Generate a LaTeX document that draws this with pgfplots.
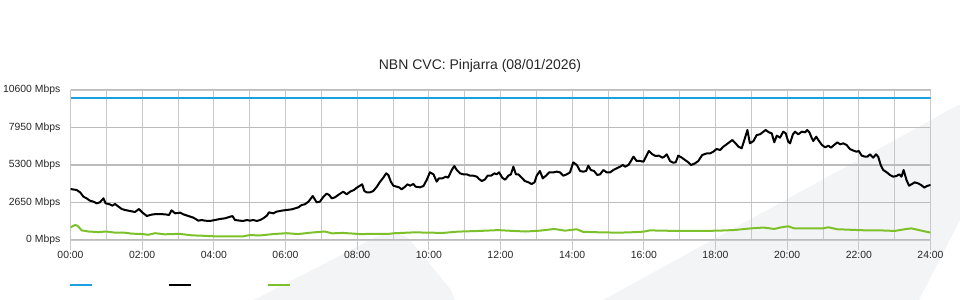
\documentclass[border=0pt]{standalone}
\usepackage{pgfplots}
\usepackage{pgfplotstable}
\pgfplotsset{compat=1.18}
\usepackage{fontspec}
\setmainfont{Liberation Sans}
\definecolor{cvcblue}{HTML}{1BA1E2}
\definecolor{cvcgreen}{HTML}{7DC12A}
\definecolor{bgshape}{HTML}{F3F4F6}
\definecolor{gridv}{HTML}{C8C8C8}
\definecolor{gridh}{HTML}{BCBCBC}

\pgfplotstableread{
t v
0.00 3604
0.17 3533
0.27 3368
0.36 3062
0.45 2944
0.54 2780
0.64 2709
0.73 2591
0.82 2662
0.92 2944
0.98 2591
1.10 2520
1.17 2426
1.24 2544
1.34 2356
1.43 2191
1.52 2120
1.66 2049
1.80 1979
1.91 2191
2.00 1955
2.13 1696
2.22 1767
2.31 1814
2.45 1837
2.64 1814
2.75 1767
2.82 2096
2.92 1884
3.06 1932
3.15 1814
3.29 1696
3.43 1578
3.57 1366
3.66 1413
3.75 1366
3.89 1343
4.03 1413
4.17 1484
4.31 1531
4.40 1602
4.52 1696
4.59 1413
4.73 1366
4.82 1343
4.92 1413
5.01 1366
5.10 1413
5.20 1343
5.29 1413
5.38 1531
5.48 1720
5.54 1955
5.66 1884
5.75 2002
5.89 2073
6.03 2120
6.17 2167
6.27 2238
6.36 2308
6.45 2473
6.54 2520
6.64 2709
6.76 3109
6.87 2662
6.96 2709
7.06 3062
7.15 3274
7.22 3180
7.29 2944
7.38 3015
7.47 3180
7.61 3416
7.71 3227
7.80 3416
7.91 3533
7.99 3698
8.08 3840
8.14 3934
8.20 3463
8.27 3368
8.36 3368
8.45 3463
8.55 3769
8.64 4122
8.73 4405
8.81 4711
8.87 4593
8.94 4122
9.01 3840
9.10 3769
9.17 3722
9.24 3580
9.34 3769
9.40 3934
9.48 3840
9.57 3957
9.63 3769
9.75 3722
9.85 3816
9.94 4240
10.03 4782
10.13 4640
10.22 4122
10.28 4358
10.38 4358
10.47 4476
10.54 4405
10.64 4947
10.71 5229
10.78 4947
10.87 4711
10.96 4640
11.06 4640
11.15 4546
11.24 4546
11.34 4476
11.40 4311
11.48 4169
11.57 4287
11.64 4546
11.74 4546
11.83 4711
11.89 4640
11.96 4782
12.05 4400
12.13 4260
12.22 4546
12.29 4640
12.36 5182
12.43 4640
12.50 4640
12.59 4405
12.68 4169
12.78 4075
12.87 3957
12.95 4075
13.01 4546
13.10 4876
13.18 4358
13.27 4546
13.36 4782
13.48 4782
13.57 4829
13.66 4782
13.75 4546
13.85 4640
13.94 4782
14.03 5488
14.13 5300
14.22 4876
14.31 4829
14.39 4876
14.45 5253
14.52 4947
14.61 4876
14.70 4593
14.78 4640
14.87 4947
14.96 4782
15.06 4782
15.15 4947
15.24 5064
15.34 5182
15.41 5300
15.48 5182
15.57 5300
15.63 5536
15.71 5889
15.80 5583
15.89 5583
15.99 5536
16.06 5889
16.14 6289
16.24 6054
16.33 5936
16.42 5960
16.52 5818
16.57 5889
16.64 6054
16.73 5583
16.82 5465
16.89 5488
16.96 5960
17.06 5818
17.15 5653
17.24 5488
17.32 5300
17.43 5418
17.52 5583
17.63 6007
17.76 6124
17.85 6124
17.94 6242
18.03 6431
18.13 6360
18.22 6596
18.31 6761
18.41 6949
18.47 7067
18.56 6831
18.64 6596
18.73 6478
18.82 7185
18.89 7773
18.96 6831
19.06 6996
19.15 7420
19.24 7467
19.34 7656
19.40 7773
19.49 7609
19.57 7538
19.64 6902
19.71 7373
19.80 7232
19.89 7656
19.96 7538
20.03 6949
20.08 6831
20.16 7467
20.22 7656
20.31 7467
20.41 7656
20.50 7609
20.56 7773
20.62 7609
20.69 7185
20.73 6996
20.81 7302
20.87 7067
20.97 6713
21.06 6549
21.15 6666
21.22 6525
21.31 6713
21.40 6902
21.48 6761
21.57 6831
21.66 6713
21.75 6431
21.85 6313
21.94 6242
22.00 6289
22.08 5960
22.17 5889
22.24 5889
22.31 6054
22.40 5818
22.48 6054
22.54 5889
22.61 5300
22.68 4947
22.78 4782
22.87 4593
22.96 4476
23.05 4523
23.13 4640
23.19 4476
23.25 4947
23.33 4240
23.40 3840
23.47 3934
23.56 4075
23.65 4005
23.74 3887
23.83 3698
23.90 3816
24.00 3887
}\peak

\pgfplotstableread{
t v
0.00 900
0.13 1060
0.20 1000
0.31 680
0.50 600
0.78 560
1.00 600
1.24 520
1.50 520
1.71 450
2.00 420
2.17 370
2.36 480
2.64 400
2.80 420
3.06 430
3.38 330
3.70 300
4.01 260
4.40 250
4.80 250
5.01 350
5.29 320
5.66 420
6.03 480
6.36 420
6.70 520
7.10 600
7.30 470
7.60 500
8.08 420
8.50 430
8.90 440
9.05 480
9.60 540
10.00 520
10.40 500
10.80 590
11.40 640
11.95 700
12.20 660
12.70 600
13.10 660
13.50 780
13.80 660
14.13 760
14.30 580
14.80 540
15.30 520
15.60 540
16.00 590
16.17 680
16.50 660
17.00 640
17.60 640
18.10 660
18.55 710
18.98 820
19.34 880
19.64 780
19.80 880
20.03 970
20.20 820
20.60 820
21.00 820
21.15 900
21.40 760
21.80 720
22.20 680
22.60 680
23.00 640
23.33 780
23.47 820
23.75 660
24.00 520
}\low

\begin{document}
\begin{tikzpicture}
\path[use as bounding box] (0,0) rectangle (960bp,300bp);
\begin{scope}[x=1bp,y=-1bp,yshift=300bp]
  \fill[bgshape] (254,300) -- (372,239) .. controls (385,232) and (402,231) .. (410,240) -- (451,290) -- (455,300) -- cycle;
  \fill[bgshape] (603,300) -- (935,118) .. controls (945,112) and (955,106) .. (960,105) -- (960,220) -- (919,300) -- cycle;
\end{scope}
\begin{axis}[
  at={(70.5bp,60bp)}, anchor=south west,
  scale only axis, width=860bp, height=150bp,
  xmin=0, xmax=24, ymin=0, ymax=10600,
  scaled y ticks=false, scaled x ticks=false,
  xtick={0,2,...,24},
  xticklabels={00:00,02:00,04:00,06:00,08:00,10:00,12:00,14:00,16:00,18:00,20:00,22:00,24:00},
  minor xtick={1,3,...,23},
  ytick={0,2650,5300,7950,10600},
  yticklabels={0 Mbps,2650 Mbps,5300 Mbps,7950 Mbps,10600 Mbps},
  xmajorgrids, xminorgrids, ymajorgrids,
  x grid style={gridv, line width=0.9bp},
  y grid style={gridh, line width=1.3bp},
  axis line style={gridv, line width=0.9bp},
  tick align=outside, major tick length=10bp, minor tick length=0pt,
  tick pos=left,
  xtick style={gridv, line width=0.9bp},
  ytick style={draw=none},
  tick label style={font=\fontsize{10.4bp}{12bp}\selectfont, text=black!85},
  xticklabel style={inner sep=1bp},
  yticklabel style={inner sep=0pt},
  title={NBN CVC: Pinjarra (08/01/2026)},
  title style={at={(0.4762,1.1)}, anchor=base, inner sep=0pt, font=\fontsize{14bp}{16bp}\selectfont, text=black!85},
  legend columns=3,
  legend style={draw=none, fill=none, inner sep=0pt, at={(-0.0014,-0.3)}, anchor=west,
    /tikz/every even column/.append style={column sep=0pt}, nodes={inner sep=0pt}},
  legend image code/.code={\draw[#1] (0bp,0bp) -- (22bp,0bp);},
  line join=round,
]
\addplot[cvcblue, line width=2bp] coordinates {(0,10000) (24,10000)};
\addlegendentry{\hspace*{75bp}}
\addplot[black, line width=2bp] table[x=t, y=v] {\peak};
\addlegendentry{\hspace*{75bp}}
\addplot[cvcgreen, line width=2bp] table[x=t, y=v] {\low};
\addlegendentry{\hspace*{75bp}}
\end{axis}
\end{tikzpicture}
\end{document}
